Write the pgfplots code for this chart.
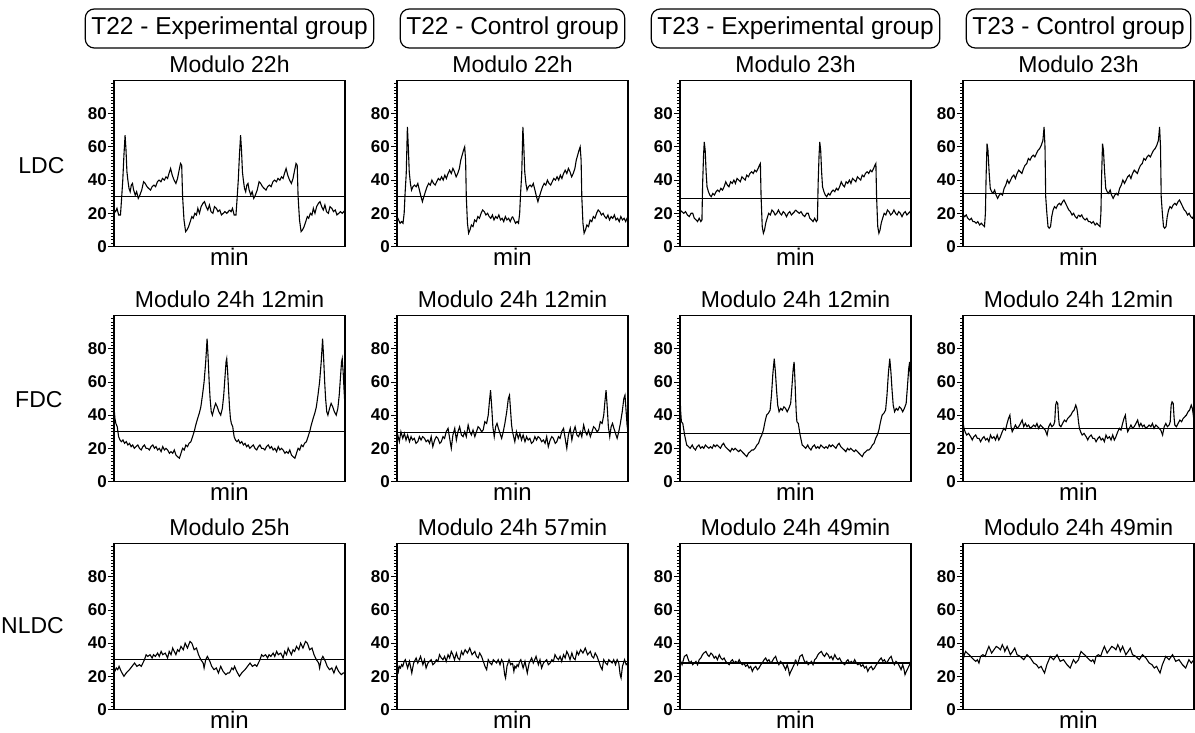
\documentclass[border=0pt]{standalone}
\usepackage{fontspec}
\setmainfont{Liberation Sans}
\usepackage{pgfplots}
\usepackage{pgfplotstable}
\pgfplotsset{compat=1.18}

% one cycle per panel (x in % of panel width); each panel is double plotted
\pgfplotstableread[row sep=\\]{x y\\0 22\\0.7 21\\1.3 23\\2 19\\2.8 19\\3.2 27\\3.8 40\\4.3 55\\4.8 67\\5.2 58\\5.6 45\\6.0 40\\6.5 35\\7.0 33\\7.5 37\\8.0 38\\8.5 34\\9.2 31\\9.8 33\\10.5 29\\11.2 31\\12.0 34\\12.8 39\\13.5 38\\14.3 36\\15.0 35\\15.8 34\\16.5 36\\17.3 37\\18.0 36\\18.8 39\\19.5 40\\20.3 39\\21.0 41\\21.8 40\\22.5 42\\23.2 41\\23.8 44\\24.5 47\\25.2 43\\26.0 40\\26.8 38\\27.5 41\\28.2 46\\28.8 50\\29.3 49\\29.7 30\\30.3 16\\31.0 9\\31.6 10\\32.3 12\\33.0 15\\33.7 18\\34.3 17\\35.0 20\\35.7 19\\36.3 23\\37.0 20\\37.7 24\\38.5 26\\39.2 27\\39.9 24\\40.6 22\\41.3 25\\42.0 21\\42.8 20\\43.5 24\\44.3 23\\45.0 21\\45.8 22\\46.5 19\\47.3 20\\48.0 21\\48.8 20\\49.5 21\\50 22\\}\ldcA
\pgfplotstableread[row sep=\\]{x y\\0 18\\0.7 16\\1.3 14\\2.0 15\\2.6 14\\3.1 20\\3.5 32\\4.0 44\\4.5 72\\4.9 60\\5.3 45\\5.8 38\\6.3 34\\6.9 36\\7.6 37\\8.3 36\\9.0 38\\9.7 34\\10.4 30\\11.0 27\\11.6 30\\12.3 33\\13.0 36\\13.7 38\\14.4 37\\15.1 40\\15.8 38\\16.5 37\\17.2 39\\17.9 41\\18.6 40\\19.3 42\\20.0 40\\20.7 43\\21.4 41\\22.1 44\\22.8 46\\23.5 44\\24.2 47\\24.9 45\\25.6 42\\26.3 44\\27.0 47\\27.6 52\\28.2 55\\28.8 58\\29.3 60\\29.7 52\\30.0 30\\30.5 14\\31.0 8\\31.6 10\\32.2 13\\32.9 12\\33.6 16\\34.3 15\\35.0 18\\35.7 17\\36.4 20\\37.1 22\\37.8 21\\38.5 19\\39.2 20\\39.9 18\\40.6 17\\41.3 19\\42.0 16\\42.7 18\\43.4 17\\44.1 19\\44.8 16\\45.5 17\\46.2 15\\46.9 18\\47.6 16\\48.3 17\\49.0 15\\49.6 17\\50 18\\}\ldcB
\pgfplotstableread[row sep=\\]{x y\\0 22\\0.8 21\\1.6 20\\2.4 21\\3.2 19\\4.0 18\\4.8 20\\5.5 20\\6.2 17\\7.0 16\\7.6 15\\8.3 17\\9.0 15\\9.5 16\\9.8 38\\10.2 55\\10.5 63\\10.9 58\\11.3 45\\11.7 36\\12.3 33\\12.9 31\\13.5 30\\14.2 32\\14.9 31\\15.6 33\\16.3 34\\17.0 33\\17.7 35\\18.4 34\\19.1 36\\19.8 39\\20.5 37\\21.2 36\\21.9 39\\22.6 38\\23.3 40\\24.0 38\\24.7 41\\25.4 40\\26.1 39\\26.8 42\\27.5 41\\28.2 40\\28.9 43\\29.6 42\\30.3 44\\31.0 45\\31.7 44\\32.4 46\\33.1 45\\33.8 47\\34.4 49\\34.8 50\\35.1 30\\35.6 12\\36.1 8\\36.6 10\\37.1 14\\37.7 17\\38.4 20\\39.1 19\\39.8 22\\40.5 21\\41.2 19\\41.9 20\\42.6 22\\43.3 20\\44.0 19\\44.7 21\\45.4 20\\46.1 18\\46.8 20\\47.5 21\\48.2 19\\48.9 20\\49.6 21\\50 22\\}\ldcC
\pgfplotstableread[row sep=\\]{x y\\0 19\\0.7 18\\1.4 19\\2.1 17\\2.9 16\\3.6 17\\4.3 15\\5.0 15\\5.7 14\\6.4 15\\7.2 13\\7.9 14\\8.6 13\\9.3 12\\9.7 20\\10.0 42\\10.4 62\\10.8 58\\11.3 45\\11.8 35\\12.4 33\\13.0 32\\13.7 34\\14.3 31\\15.0 29\\15.7 31\\16.4 32\\17.1 31\\17.8 35\\18.5 37\\19.2 40\\19.9 38\\20.6 40\\21.3 42\\22.0 43\\22.7 41\\23.4 44\\24.1 46\\24.8 45\\25.5 44\\26.2 47\\26.9 49\\27.6 50\\28.3 53\\29.0 52\\29.7 54\\30.4 55\\31.1 54\\31.8 56\\32.5 58\\33.2 59\\33.9 61\\34.6 64\\35.1 72\\35.5 60\\35.8 30\\36.3 20\\36.8 12\\37.3 11\\37.9 12\\38.4 18\\39.0 22\\39.6 24\\40.3 23\\41.0 25\\41.7 26\\42.4 25\\43.1 27\\43.7 28\\44.4 26\\45.1 24\\45.8 22\\46.5 21\\47.2 19\\47.9 20\\48.6 18\\49.3 17\\50 19\\}\ldcD
\pgfplotstableread[row sep=\\]{x y\\0 45\\0.4 38\\0.8 35\\1.4 33\\2.0 27\\2.6 25\\3.2 24\\3.9 25\\4.6 23\\5.3 24\\6.0 22\\6.7 23\\7.4 21\\8.1 22\\8.8 20\\9.5 21\\10.3 22\\11.0 20\\11.8 19\\12.5 21\\13.2 22\\13.9 20\\14.6 20\\15.3 19\\16.0 21\\16.8 22\\17.5 20\\18.2 21\\18.9 19\\19.6 20\\20.4 18\\21.1 21\\21.8 19\\22.5 20\\23.2 19\\24.0 17\\24.7 18\\25.4 17\\26.1 19\\26.8 16\\27.5 15\\28.3 14\\29.0 17\\29.7 20\\30.4 19\\31.1 22\\31.8 21\\32.5 23\\33.3 24\\34.0 27\\34.7 30\\35.4 34\\36.2 38\\36.9 41\\37.6 45\\38.3 52\\39.0 60\\39.7 72\\40.3 86\\40.7 76\\41.2 60\\41.6 50\\42.1 42\\42.6 40\\43.3 44\\44.0 47\\44.7 45\\45.4 42\\46.2 40\\46.9 44\\47.5 52\\48.0 62\\48.5 72\\48.8 74\\49.2 66\\49.6 55\\50 45\\}\fdcA
\pgfplotstableread[row sep=\\]{x y\\0 30\\1.0 24\\1.7 30\\2.5 26\\3.2 29\\3.9 25\\4.6 28\\5.4 24\\6.1 27\\6.8 25\\7.5 26\\8.2 23\\9.0 24\\9.7 27\\10.4 25\\11.1 27\\11.9 26\\12.6 24\\13.4 25\\14.1 23\\14.8 27\\15.5 21\\16.3 25\\17.0 27\\17.7 26\\18.5 23\\19.2 24\\19.9 27\\20.6 26\\21.3 30\\22.1 32\\22.8 26\\23.5 20\\24.2 28\\25.0 32\\25.7 25\\26.4 30\\27.1 33\\27.9 28\\28.6 27\\29.3 30\\30.0 27\\30.8 34\\31.5 30\\32.2 28\\32.9 31\\33.7 27\\34.4 30\\35.1 33\\35.8 32\\36.6 30\\37.3 31\\38.0 36\\38.8 35\\39.5 40\\40.0 48\\40.5 55\\41.0 45\\41.5 33\\42.1 27\\42.7 33\\43.3 35\\43.9 32\\44.6 29\\45.3 26\\46.0 30\\46.7 35\\47.5 42\\48.2 50\\48.7 52\\49.2 42\\49.6 34\\50 30\\}\fdcB
\pgfplotstableread[row sep=\\]{x y\\0 52\\0.3 42\\0.6 36\\1.2 35\\2.0 28\\2.9 22\\3.7 21\\4.4 20\\5.3 22\\6.0 20\\6.7 19\\7.4 21\\8.2 22\\8.9 20\\9.6 21\\10.3 20\\11.0 22\\11.7 21\\12.5 20\\13.2 21\\13.9 20\\14.6 22\\15.3 21\\16.0 22\\16.8 21\\17.5 20\\18.2 22\\18.9 23\\19.6 21\\20.3 20\\21.1 19\\21.8 18\\22.5 20\\23.2 19\\23.9 20\\24.6 19\\25.4 18\\26.1 19\\26.8 18\\27.5 17\\28.2 16\\28.9 15\\29.6 17\\30.4 18\\31.1 19\\31.8 19\\32.5 20\\33.3 22\\34.0 23\\34.7 26\\35.4 28\\36.1 31\\36.8 36\\37.5 40\\38.2 41\\39.0 43\\39.6 52\\40.2 65\\40.8 74\\41.3 66\\41.8 55\\42.3 46\\42.9 42\\43.6 44\\44.3 43\\45.0 45\\45.7 44\\46.4 42\\47.1 44\\47.9 47\\48.5 58\\49.0 68\\49.4 72\\49.8 60\\50 52\\}\fdcC
\pgfplotstableread[row sep=\\]{x y\\0 36\\0.4 32\\0.9 30\\1.6 28\\2.4 29\\3.3 27\\4.0 25\\4.7 27\\5.5 28\\6.2 26\\6.9 26\\7.6 24\\8.4 26\\9.1 27\\9.8 25\\10.5 26\\11.2 24\\11.9 28\\12.6 26\\13.4 27\\14.1 25\\14.8 28\\15.5 25\\16.2 27\\17.0 30\\17.7 32\\18.4 31\\19.1 35\\19.7 38\\20.3 40\\20.8 33\\21.3 30\\22.0 32\\22.7 34\\23.4 32\\24.1 33\\24.9 35\\25.6 37\\26.3 33\\27.0 35\\27.7 33\\28.4 34\\29.1 32\\29.9 33\\30.6 34\\31.3 33\\32.0 35\\32.7 32\\33.5 34\\34.2 33\\34.9 32\\35.6 31\\36.4 28\\37.1 33\\37.8 35\\38.5 33\\39.2 34\\39.7 36\\40.1 46\\40.5 48\\41.0 47\\41.4 38\\41.7 34\\42.4 33\\43.1 35\\43.9 37\\44.6 36\\45.3 38\\46.0 39\\46.7 40\\47.4 42\\48.1 43\\48.8 46\\49.3 44\\49.7 40\\50 36\\}\fdcD
\pgfplotstableread[row sep=\\]{x y\\0 22\\1.0 25\\1.6 24\\2.2 26\\3.1 23\\4.3 20\\5.3 22\\6.0 23\\6.7 24\\7.8 26\\8.9 28\\9.9 26\\11.0 27\\11.8 26\\12.5 28\\13.2 30\\13.9 33\\14.6 32\\15.6 33\\16.5 31\\17.1 33\\17.9 32\\18.9 34\\19.6 32\\20.4 35\\21.1 33\\22.2 34\\23.2 31\\23.9 35\\24.7 33\\25.4 37\\26.1 35\\26.8 33\\27.5 36\\28.2 35\\29.0 38\\30.0 36\\30.8 40\\31.8 37\\32.9 41\\33.7 40\\34.7 36\\35.7 37\\36.6 33\\37.6 30\\38.6 28\\39.0 25\\39.7 30\\40.4 32\\41.5 29\\42.3 26\\43.3 24\\44.3 25\\45.2 22\\46.2 26\\47.2 23\\48.4 21\\49.2 22\\50 22\\}\nldcA
\pgfplotstableread[row sep=\\]{x y\\0 28\\0.6 23\\1.0 26\\1.5 25\\2.0 27\\2.5 26\\3.1 29\\3.6 30\\4.6 25\\5.4 29\\6.4 22\\7.2 28\\8.3 31\\9.0 28\\9.6 30\\10.2 32\\11.2 27\\11.9 30\\12.6 25\\13.4 28\\14.1 29\\14.8 30\\15.5 27\\16.3 28\\17.0 30\\17.7 29\\18.4 33\\19.2 31\\19.9 30\\20.6 32\\21.3 29\\22.1 33\\22.8 31\\23.5 35\\24.2 33\\24.9 30\\25.7 34\\26.4 31\\27.1 30\\27.9 35\\28.6 33\\29.5 36\\30.5 34\\31.5 37\\32.5 33\\33.7 35\\34.4 32\\35.1 31\\35.8 34\\36.6 32\\37.6 28\\38.1 26\\38.8 24\\39.5 30\\40.3 28\\41.0 27\\41.7 30\\42.4 29\\43.1 28\\43.8 30\\44.6 27\\45.3 30\\46.0 28\\46.6 21\\47.0 19\\47.6 26\\48.5 30\\49.2 27\\50 28\\}\nldcB
\pgfplotstableread[row sep=\\]{x y\\0 30\\0.9 27\\1.9 32\\2.9 33\\3.6 30\\4.2 28\\4.9 29\\5.5 27\\6.2 28\\6.9 29\\7.6 27\\8.3 30\\9.0 31\\9.7 33\\10.3 34\\11.2 35\\11.9 33\\12.6 32\\13.4 34\\14.1 33\\14.8 31\\15.5 32\\16.2 30\\17.0 33\\17.7 31\\18.4 30\\19.1 31\\19.8 29\\20.5 28\\21.3 27\\22.0 29\\22.7 30\\23.4 28\\24.1 29\\24.9 28\\25.6 30\\26.3 28\\27.0 27\\27.7 28\\28.4 26\\29.2 27\\29.9 25\\30.6 26\\31.3 23\\32.0 25\\32.8 26\\33.5 24\\34.2 25\\35.0 27\\35.6 28\\36.4 30\\37.1 31\\37.8 29\\38.5 30\\39.2 28\\39.9 29\\40.7 31\\41.4 32\\42.1 29\\42.8 27\\43.5 29\\44.3 28\\45.0 26\\45.7 24\\46.4 27\\47.0 24\\47.4 21\\48.0 23\\48.7 25\\49.4 27\\50 30\\}\nldcC
\pgfplotstableread[row sep=\\]{x y\\0 30\\0.6 33\\1.1 35\\1.8 34\\2.6 33\\3.3 32\\4.0 31\\4.7 30\\5.5 29\\6.2 30\\6.9 28\\7.6 32\\8.6 33\\9.6 32\\10.3 35\\11.2 38\\12.4 34\\13.4 36\\14.4 38\\15.5 37\\16.2 36\\17.0 39\\17.7 37\\18.1 35\\19.1 38\\20.5 33\\21.5 35\\22.4 37\\23.4 33\\24.8 32\\26.3 30\\27.7 33\\29.2 31\\30.6 28\\31.8 27\\32.8 25\\33.8 26\\34.5 24\\35.3 22\\36.3 27\\37.8 32\\39.2 30\\40.7 33\\42.1 29\\43.5 30\\45.0 27\\46.4 25\\47.8 30\\48.8 28\\50 30\\}\nldcD

\pgfplotsset{
  panel/.style={
    anchor=north west, scale only axis, width=231pt, height=166pt,
    xmin=0, xmax=100, ymin=0, ymax=100,
    xtick=\empty, ytick={0,20,40,60,80}, minor ytick={2,4,...,98},
    ytick pos=left, tick align=outside,
    major tick length=6pt, minor tick length=3pt,
    axis line style={black, line width=1.1pt},
    every tick/.style={black, line width=0.8pt},
    yticklabel style={font=\fontsize{17}{18}\selectfont\bfseries,
      /pgf/number format/assume math mode=true, inner sep=1pt},
    title style={font=\fontsize{23}{25}\selectfont,
      at={(axis description cs:0.5,1)}, anchor=south, inner sep=2pt},
    xlabel={min},
    xlabel style={font=\fontsize{24}{26}\selectfont,
      at={(axis description cs:0.5,0)}, anchor=north, inner sep=1pt},
  },
  trace/.style={black, line width=1.1pt, no marks},
}

\newcommand\panel[5]{%
  \begin{axis}[panel, at={(#1pt,-#2pt)}, title={#3}]
    \addplot[trace] table[x=x, y=y]{#4};
    \addplot[trace] table[x expr=\thisrow{x}+50, y=y]{#4};
    \addplot[trace] coordinates {(0,#5) (100,#5)};
  \end{axis}}

\begin{document}
\begin{tikzpicture}
\useasboundingbox (0,0) rectangle (1195pt,-733pt);
\tikzset{hdr/.style={draw=black, line width=1.2pt, rounded corners=9pt,
  minimum height=39pt, inner xsep=6pt, font=\fontsize{24.5}{26}\selectfont},
  rowlab/.style={font=\fontsize{23}{24}\selectfont}}

\panel{114}{80.5}{Modulo 22h}{\ldcA}{30}
\panel{397}{80.5}{Modulo 22h}{\ldcB}{30}
\panel{680}{80.5}{Modulo 23h}{\ldcC}{29}
\panel{963}{80.5}{Modulo 23h}{\ldcD}{32}

\panel{114}{315.5}{Modulo 24h 12min}{\fdcA}{30}
\panel{397}{315.5}{Modulo 24h 12min}{\fdcB}{29.5}
\panel{680}{315.5}{Modulo 24h 12min}{\fdcC}{29}
\panel{963}{315.5}{Modulo 24h 12min}{\fdcD}{32}

\panel{114}{543.5}{Modulo 25h}{\nldcA}{30}
\panel{397}{543.5}{Modulo 24h 57min}{\nldcB}{29}
\panel{680}{543.5}{Modulo 24h 49min}{\nldcC}{28}
\panel{963}{543.5}{Modulo 24h 49min}{\nldcD}{32}

\node[hdr] at (229.5pt,-28.5pt) {T22 - Experimental group};
\node[hdr] at (512.5pt,-28.5pt) {T22 - Control group};
\node[hdr] at (795.5pt,-28.5pt) {T23 - Experimental group};
\node[hdr] at (1078.5pt,-28.5pt) {T23 - Control group};

\node[rowlab, anchor=east] at (68pt,-166pt) {LDC};
\node[rowlab, anchor=east] at (66pt,-400pt) {FDC};
\node[rowlab, anchor=west, inner xsep=1pt] at (0pt,-626pt) {NLDC};
\end{tikzpicture}
\end{document}
